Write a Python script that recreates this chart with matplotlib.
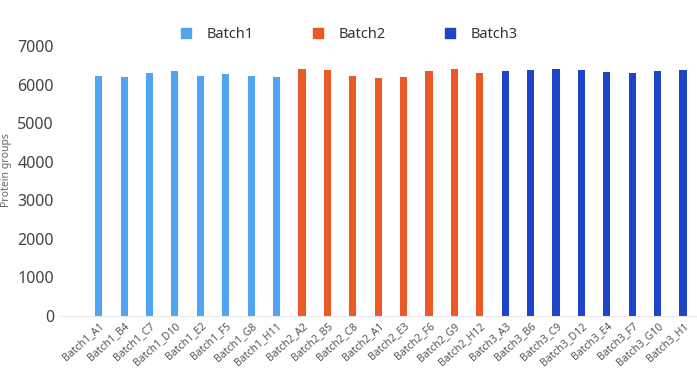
import numpy as np
import matplotlib.pyplot as plt
from matplotlib.lines import Line2D
from matplotlib.transforms import ScaledTranslation

plt.rcParams['font.family'] = ['Noto Sans', 'DejaVu Sans']

# Datos
batch1_labels = ["Batch1_A1", "Batch1_B4", "Batch1_C7", "Batch1_D10",
                 "Batch1_E2", "Batch1_F5", "Batch1_G8", "Batch1_H11"]
batch2_labels = ["Batch2_A2", "Batch2_B5", "Batch2_C8", "Batch2_A1",
                 "Batch2_E3", "Batch2_F6", "Batch2_G9", "Batch2_H12"]
batch3_labels = ["Batch3_A3", "Batch3_B6", "Batch3_C9", "Batch3_D12",
                 "Batch3_E4", "Batch3_F7", "Batch3_G10", "Batch3_H1"]

batch1_values = [6224, 6216, 6310, 6361, 6242, 6284, 6224, 6198]
batch2_values = [6413, 6397, 6224, 6190, 6198, 6361, 6413, 6302]
batch3_values = [6372, 6397, 6413, 6397, 6335, 6302, 6353, 6387]

series_names = ["Batch1", "Batch2", "Batch3"]
colores = ["#4FA5F0", "#EA5A26", "#1E45C8"]

etiquetas = batch1_labels + batch2_labels + batch3_labels
grupos = [batch1_values, batch2_values, batch3_values]

fig = plt.figure(figsize=(6.97, 3.70), dpi=100)
ax = fig.add_axes([61 / 697, 54.5 / 370, 636 / 697, 269.0 / 370])

inicio = 0
for vals, color in zip(grupos, colores):
    x = np.arange(inicio, inicio + len(vals))
    ax.bar(x, vals, width=0.28, color=color)
    inicio += len(vals)

ax.set_xlim(-1.484, 23.55)
ax.set_ylim(0, 7000)
ax.set_yticks(np.arange(0, 7001, 1000))
ax.set_xticks(np.arange(len(etiquetas)))
ax.set_xticklabels(etiquetas, rotation=42, ha='right', rotation_mode='anchor',
                   fontsize=7.5, color='#555555')
desplaza = ScaledTranslation(6 / 100, 1 / 100, fig.dpi_scale_trans)
for lab in ax.get_xticklabels():
    lab.set_transform(lab.get_transform() + desplaza)

ax.tick_params(axis='both', length=0)
ax.tick_params(axis='y', labelsize=11.5, colors='#444444', pad=5)
for s in ['top', 'right', 'left']:
    ax.spines[s].set_visible(False)
ax.spines['bottom'].set_color('#E6E6E6')

fig.text(7 / 697, 1 - 170 / 370, "Protein groups", rotation=90,
         ha='center', va='center', fontsize=7.5, color='#666666')

# Leyenda
handles = [Line2D([], [], linestyle='none', marker='s', markersize=7.5,
                  color=c) for c in colores]
fig.legend(handles, series_names, loc='center', ncol=3,
           bbox_to_anchor=(349 / 697, 1 - 35 / 370), frameon=False,
           fontsize=10.5, labelcolor='#333333', handlelength=0.8,
           handletextpad=1.0, columnspacing=4.0)

fig.savefig("out.png", dpi=100)
